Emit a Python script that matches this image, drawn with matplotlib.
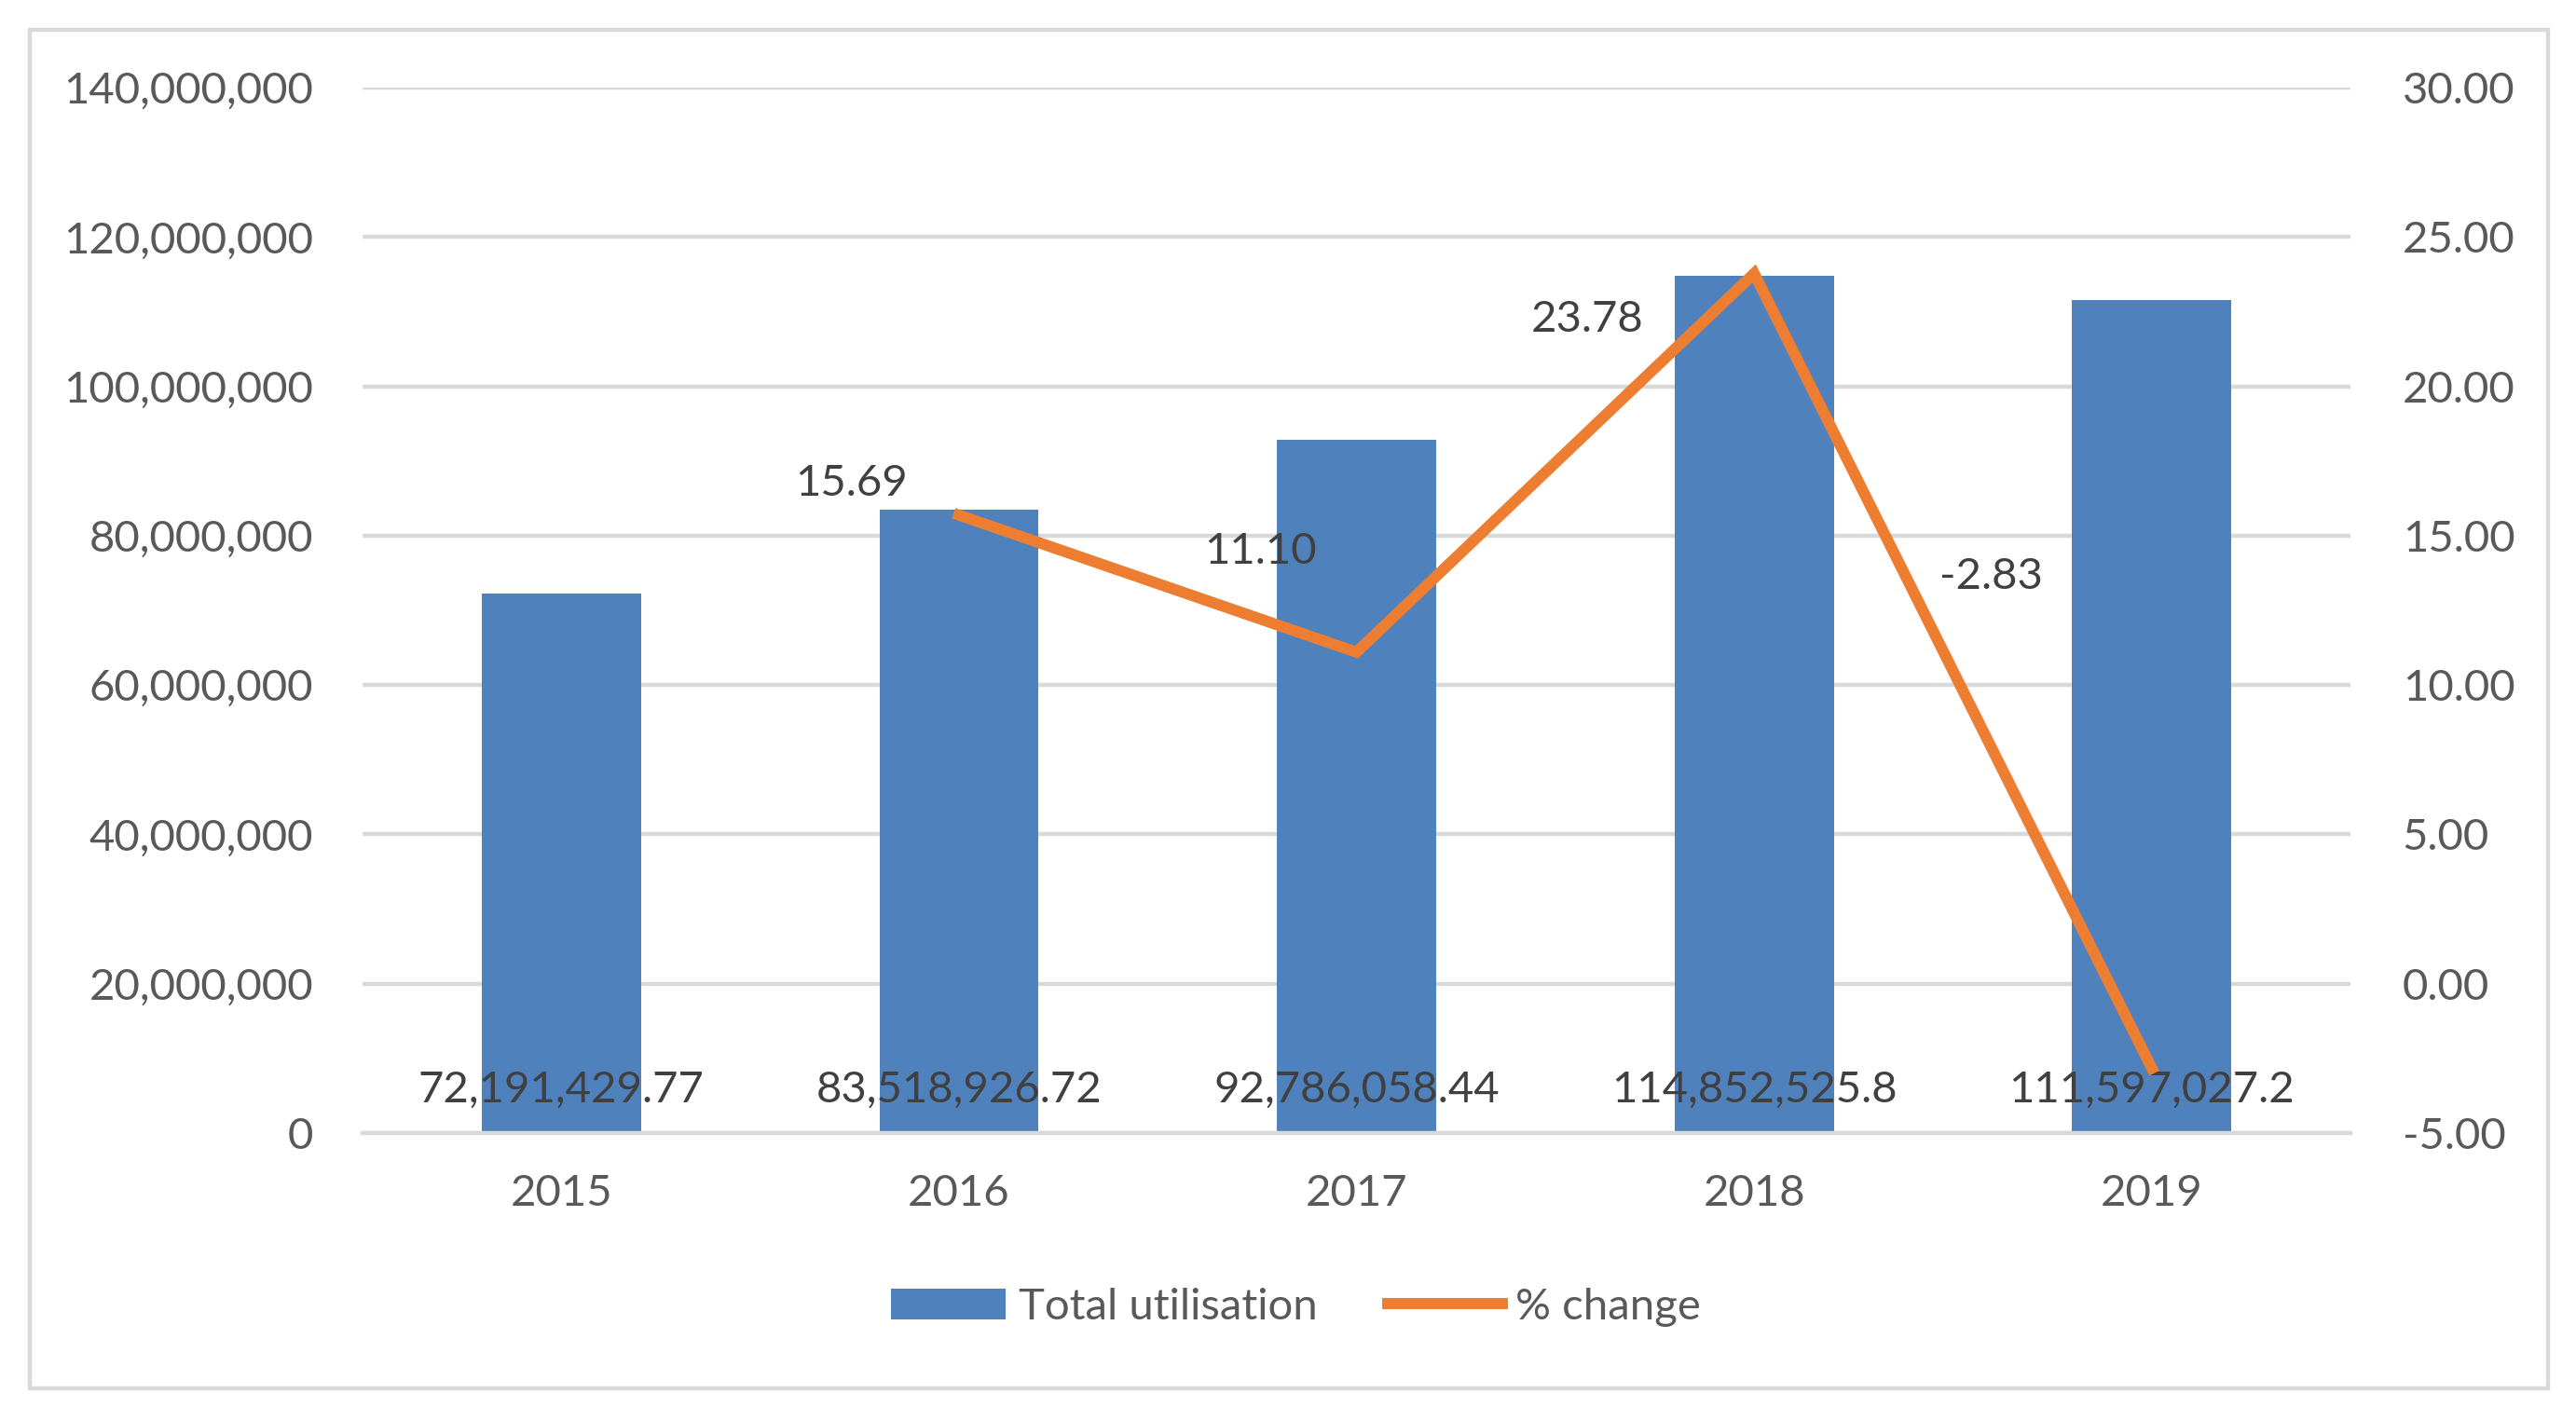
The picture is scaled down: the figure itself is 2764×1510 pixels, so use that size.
import matplotlib
matplotlib.use("Agg")
import matplotlib.pyplot as plt
from matplotlib.patches import Rectangle
from matplotlib.ticker import FuncFormatter, MultipleLocator
from matplotlib.lines import Line2D
from matplotlib.patches import Patch

years = ["2015", "2016", "2017", "2018", "2019"]
total_utilisation = [72191429.77, 83518926.72, 92786058.44, 114852525.8, 111597027.2]
bar_labels = ["72,191,429.77", "83,518,926.72", "92,786,058.44", "114,852,525.8", "111,597,027.2"]
pct_years_idx = [1, 2, 3, 4]
pct_change = [15.69, 11.10, 23.78, -2.83]
pct_labels = ["15.69", "11.10", "23.78", "-2.83"]

plt.rcParams['font.family'] = ['Lato', 'DejaVu Sans']

DPI = 200
FS = 17
fig = plt.figure(figsize=(2764 / DPI, 1510 / DPI), dpi=DPI)
ax = fig.add_axes([0.1407, 0.1947, 0.9125 - 0.1407, 0.9377 - 0.1947])
ax2 = ax.twinx()

bar_color = "#4F81BD"
line_color = "#ED7D31"
grid_color = "#D9D9D9"
tick_color = "#595959"
label_color = "#404040"

x = list(range(len(years)))
ax.bar(x, total_utilisation, width=0.40, color=bar_color, zorder=2)
ax.set_xlim(-0.5, 4.5)
ax.set_ylim(0, 140000000)
ax.yaxis.set_major_locator(MultipleLocator(20000000))
ax.yaxis.set_major_formatter(FuncFormatter(lambda v, p: f"{int(v):,}"))
ax.set_xticks(x)
ax.set_xticklabels(years)
ax.grid(axis='y', color=grid_color, linewidth=1.6, zorder=0)
ax.set_axisbelow(True)

for s in ["top", "left", "right"]:
    ax.spines[s].set_visible(False)
    ax2.spines[s].set_visible(False)
ax.spines["bottom"].set_color(grid_color)
ax.spines["bottom"].set_linewidth(1.6)
ax2.spines["bottom"].set_visible(False)

ax.tick_params(axis='both', length=0, labelsize=FS, labelcolor=tick_color)
ax.tick_params(axis='y', pad=19)
ax.tick_params(axis='x', pad=16)

ax2.plot(pct_years_idx, pct_change, color=line_color, linewidth=4.3,
         solid_joinstyle='miter', zorder=3)
ax2.set_ylim(-5, 30)
ax2.yaxis.set_major_locator(MultipleLocator(5))
ax2.yaxis.set_major_formatter(FuncFormatter(lambda v, p: f"{v:.2f}"))
ax2.tick_params(axis='y', length=0, labelsize=FS, labelcolor=tick_color, pad=20)

# bar data labels (inside base)
for xi, lab in zip(x, bar_labels):
    ax.annotate(lab, (xi, 0), xytext=(0, 46), textcoords='offset pixels',
                ha='center', va='center', fontsize=FS, color=label_color, zorder=4)

# line data labels
offsets = [(-115, 34), (-103, 108), (-179, -50), (-172, 527)]
for xi, v, lab, (dx, dy) in zip(pct_years_idx, pct_change, pct_labels, offsets):
    ax2.annotate(lab, (xi, v), xytext=(dx, dy), textcoords='offset pixels',
                 ha='center', va='center', fontsize=FS, color=label_color, zorder=4)

handles = [Patch(facecolor=bar_color, edgecolor='none'),
           Line2D([0], [0], color=line_color, linewidth=4.3)]
fig.legend(handles, ["Total utilisation", "% change"], loc='center',
           bbox_to_anchor=(0.503, 0.071), ncol=2, frameon=False, fontsize=FS,
           labelcolor=tick_color, handlelength=2.6, handleheight=0.7,
           columnspacing=1.6, handletextpad=0.3)

fig.patches.append(Rectangle((32 / 2764, 20 / 1510), (2734 - 32) / 2764, (1478 - 20) / 1510,
                             transform=fig.transFigure, fill=False,
                             edgecolor=grid_color, linewidth=1.6))

fig.savefig("out.png", dpi=DPI, facecolor="white")
